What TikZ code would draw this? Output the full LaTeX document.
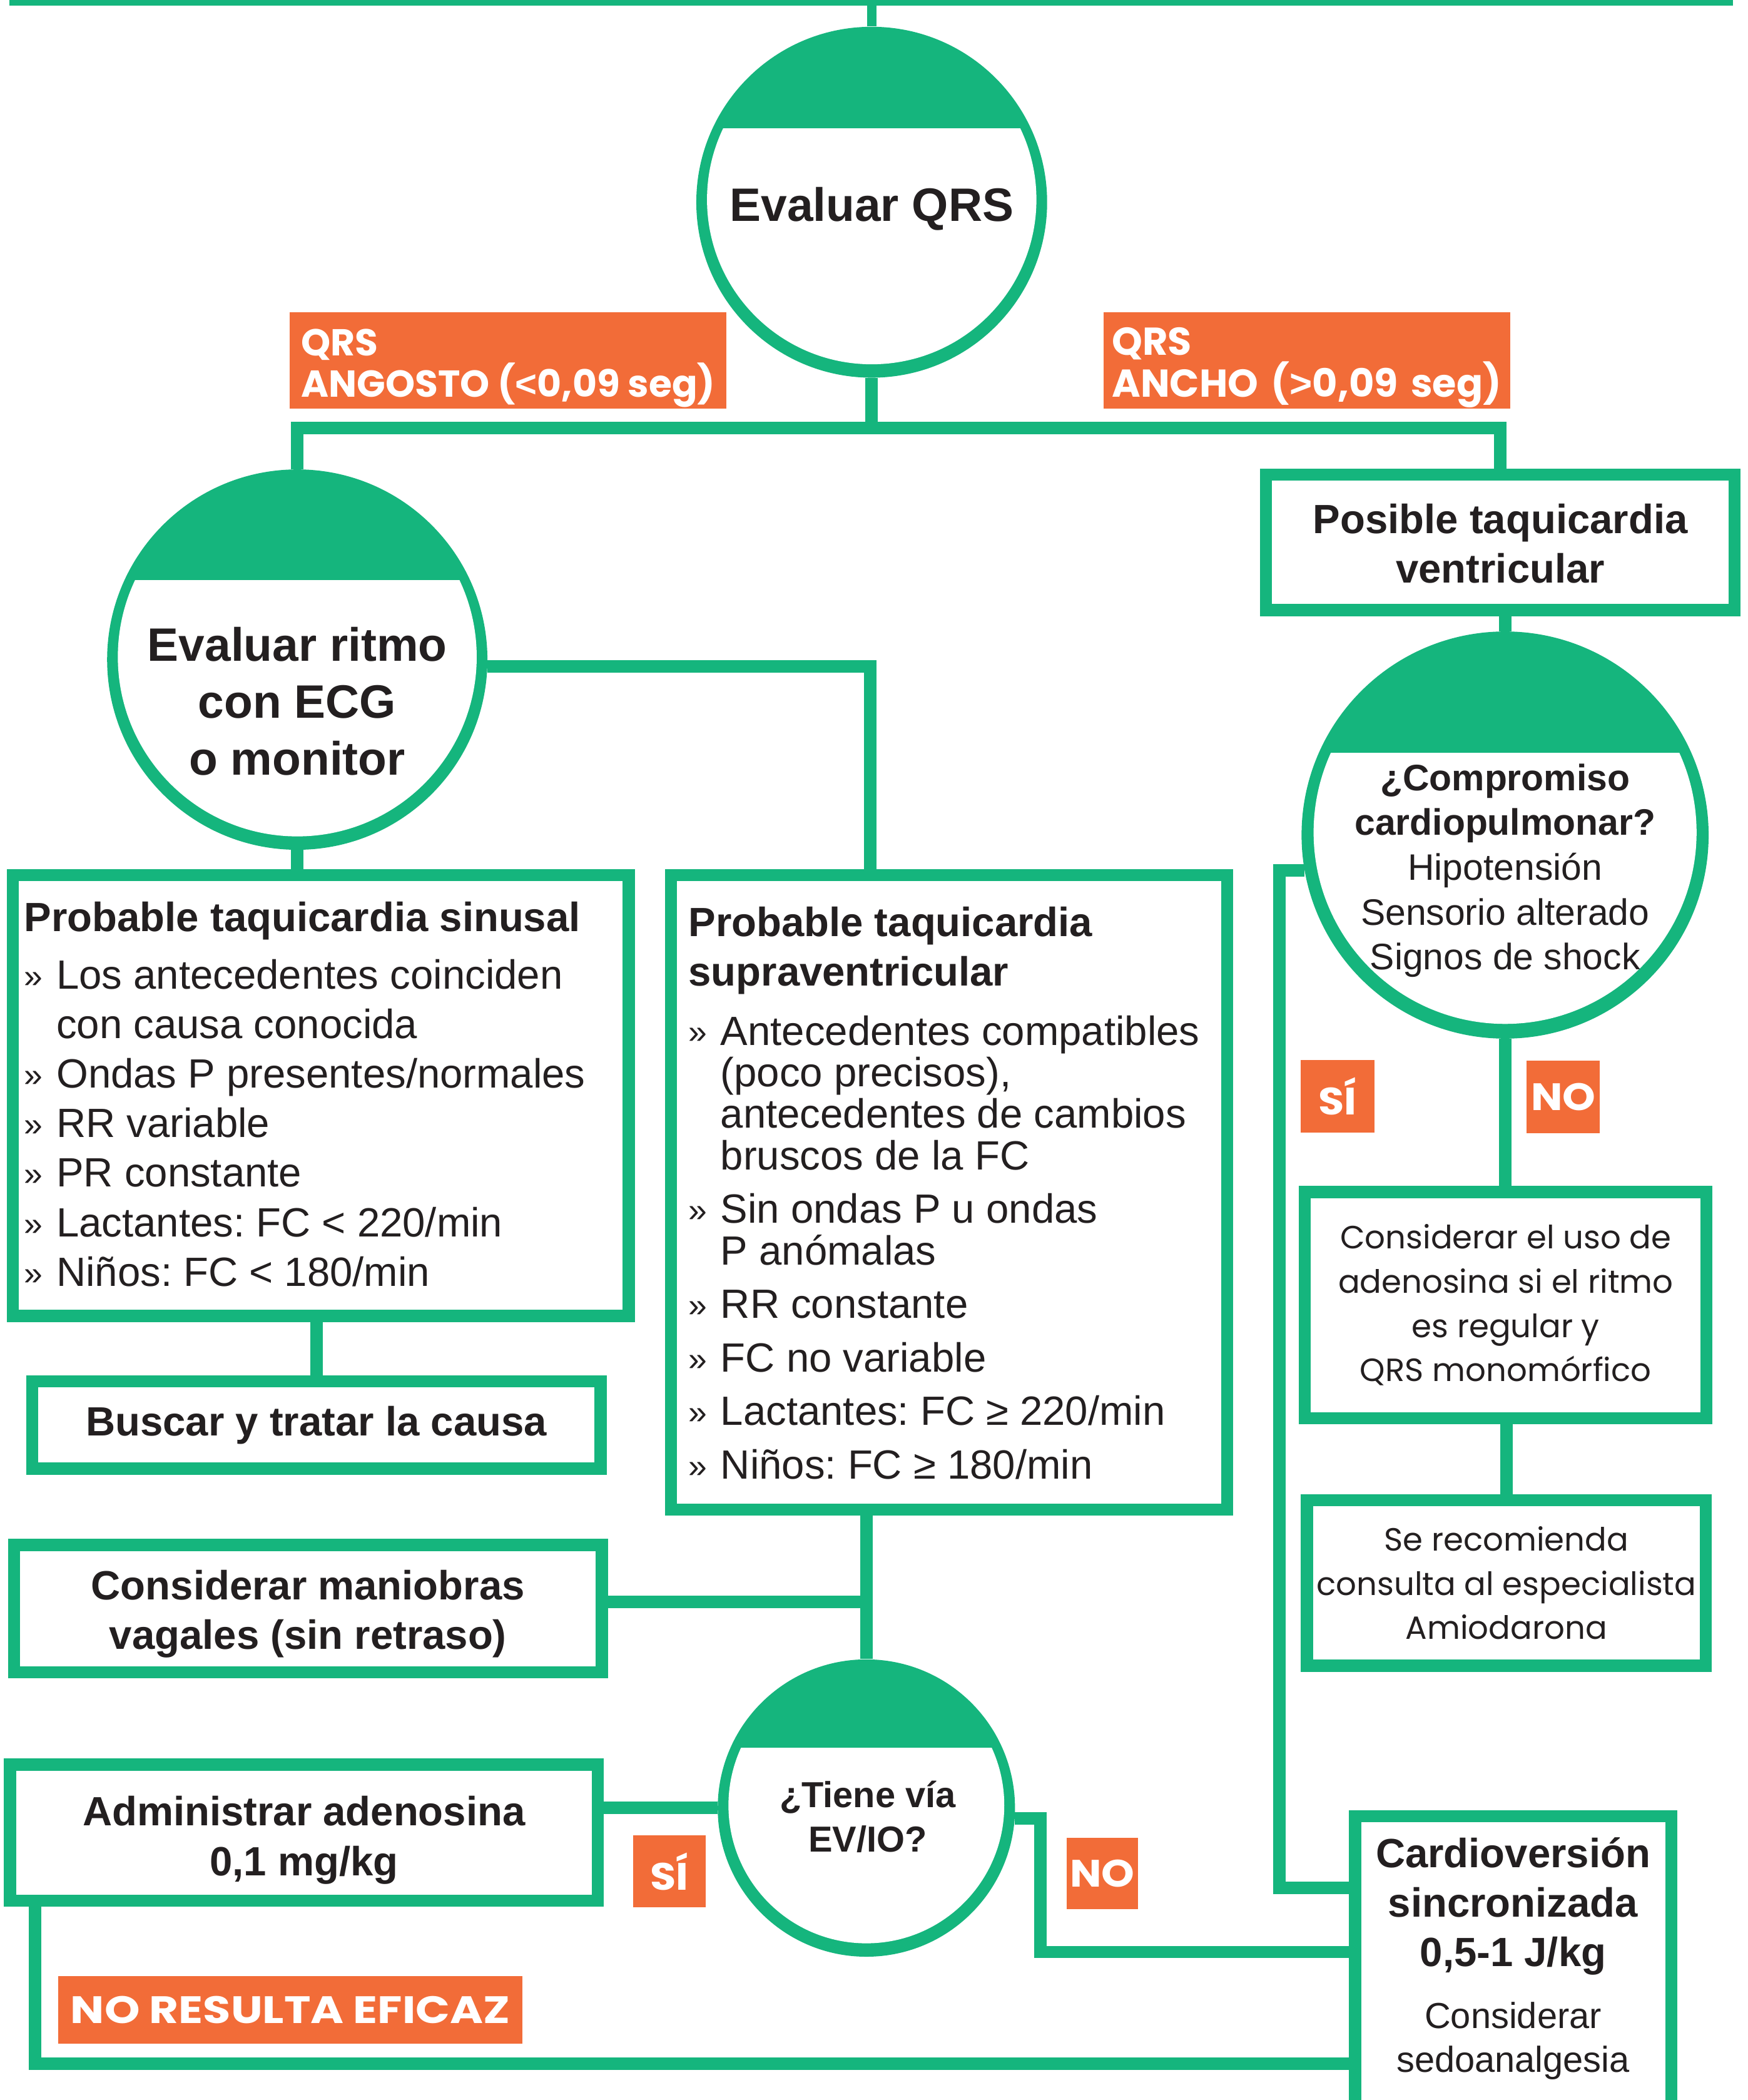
\documentclass[tikz,border=0pt]{standalone}
\usepackage{fontspec}
\setmainfont{Liberation Sans}
\newfontfamily\geo{Poppins}
\definecolor{vgreen}{RGB}{21,181,125}
\definecolor{vorange}{RGB}{242,108,56}
\definecolor{ink}{RGB}{35,31,32}
\newcommand\myfs[2]{\fontsize{#1}{#2}\selectfont}
\newcommand\bul{\makebox[24pt][l]{\myfs{25}{25}\raisebox{1pt}{»}}}
\newcommand\ind{\hspace*{24pt}}
\newcommand\lsb[1]{{\normalfont\bfseries #1}}
\newcommand\capcircle[5]{%
  \fill[vgreen] (#1,#2) circle (#3pt);
  \begin{scope}
    \clip (#1,#2-2) circle (#3pt-#4pt);
    \fill[white] (#1-#3,#5) rectangle (#1+#3,#2+#3);
  \end{scope}}
\frenchspacing
\begin{document}
\begin{tikzpicture}[x=1pt,y=-1pt,
  every node/.style={text=ink},
  conn/.style={draw=vgreen,line width=9.3pt},
  thinconn/.style={draw=vgreen,line width=6.7pt},
  gbox/.style={draw=vgreen,line width=9pt,fill=white,inner sep=0pt,align=center},
  lab/.style={fill=vorange,text=white,inner sep=0pt,font=\geo\bfseries\myfs{28.5}{31}},
  ctext/.style={align=center,inner sep=0pt},
  hollow/.style={circle,inner sep=0pt,draw=none}]
\useasboundingbox (0,0) rectangle (1305,1568);
\clip (0,0) rectangle (1305,1568);

% circle graphics
\capcircle{651}{151}{131}{8}{96}
\capcircle{222}{492.5}{142}{8}{433}
\capcircle{647}{1350}{111}{8}{1305}
\capcircle{1124}{623.5}{152}{9}{562}

% circle nodes
\node[hollow,minimum size=262pt] (c1) at (651,151) {};
\node[hollow,minimum size=284pt] (c2) at (222,492.5) {};
\node[hollow,minimum size=222pt] (c3) at (647,1350) {};
\node[hollow,minimum size=304pt] (c4) at (1124,623.5) {};

\node[ctext,font=\bfseries\myfs{35}{42}] (c1t) at (651,153) {\rule{0pt}{31.5pt}Evaluar QRS};
\node[ctext,font=\bfseries\myfs{35}{42.5}] (c2t) at (222,523.5) {Evaluar ritmo\\con ECG\\o monitor};
\node[ctext,font=\bfseries\myfs{27}{33}] (c3t) at (648,1356.5) {¿Tiene vía\\EV/IO?};
\node[ctext,font=\myfs{27.5}{33.5}] (c4t) at (1124,647.5) {\rule{0pt}{25pt}\textbf{¿Compromiso}\\\textbf{cardiopulmonar?}\\Hipotensión\\Sensorio alterado\\Signos de shock};

% top bar
\node[fill=vgreen,inner sep=0pt,minimum width=1287pt,minimum height=9pt] (topbar) at (650.5,-0.3) {};

% boxes
\node[gbox,minimum width=350pt,minimum height=101pt,font=\bfseries\myfs{30.5}{37}] (pv) at (1120.5,405) {\rule{0pt}{24pt}Posible taquicardia\\ventricular};
\node[gbox,minimum width=460pt,minimum height=329pt] (sin) at (239.5,818) {};
\node[anchor=north west,inner sep=0pt,align=left,font=\myfs{30.5}{37}] (sint) at (18,673)
 {\textbf{Probable taquicardia sinusal}\\[6pt]
  \bul Los antecedentes coinciden\\
  \ind con causa conocida\\
  \bul Ondas P presentes/normales\\
  \bul RR variable\\
  \bul PR constante\\
  \bul Lactantes: FC < 220/min\\
  \bul Niños: FC < 180/min};
\node[gbox,minimum width=415.5pt,minimum height=473.5pt] (svt) at (708.75,890.25) {};
\node[anchor=north west,inner sep=0pt,align=left,font=\myfs{30.5}{31}] (svtt) at (514,677)
 {\textbf{Probable taquicardia}\\[6pt]
  \textbf{supraventricular}\\[13pt]
  \bul Antecedentes compatibles\\
  \ind (poco precisos),\\
  \ind antecedentes de cambios\\
  \ind bruscos de la FC\\[9pt]
  \bul Sin ondas P u ondas\\
  \ind P anómalas\\[9pt]
  \bul RR constante\\[9pt]
  \bul FC no variable\\[9pt]
  \bul Lactantes: FC ≥ 220/min\\[9pt]
  \bul Niños: FC ≥ 180/min};
\node[gbox,minimum width=424.5pt,minimum height=65pt,font=\bfseries\myfs{30.5}{37}] (busc) at (236.25,1064) {Buscar y tratar la causa};
\node[gbox,minimum width=439pt,minimum height=95pt,font=\bfseries\myfs{30.5}{37}] (man) at (230,1201) {\rule{0pt}{30pt}Considerar maniobras\\vagales (sin retraso)};
\node[gbox,minimum width=439pt,minimum height=101.5pt,font=\bfseries\myfs{30.5}{37}] (aden) at (227,1368.25) {\rule{0pt}{33.5pt}Administrar adenosina\\0,1 mg/kg};
\node[gbox,minimum width=300pt,minimum height=169pt,font=\geo\myfs{24}{33}] (uso) at (1124.5,974.5) {Considerar el uso de\\adenosina si el ritmo\\es regular y\\QRS monomórfico};
\node[gbox,minimum width=298pt,minimum height=123.5pt,font=\geo\myfs{24}{33}] (sereco) at (1125,1182) {Se recomienda\\consulta al especialista\\Amiodarona};
\node[gbox,minimum width=236pt,minimum height=344pt] (card) at (1130,1528) {};
\node[ctext,font=\myfs{30.5}{37}] (cardt) at (1130,1462.5) {\textbf{Cardioversión}\\\textbf{sincronizada}\\\textbf{0,5-1 J/kg}\\[9pt]{\myfs{27}{37}Considerar}\\[-4pt]{\myfs{27}{37}sedoanalgesia}};

% orange labels
\node[lab,font=\geo\bfseries\myfs{28}{31},minimum width=326pt,minimum height=72pt,align=left] (lnar) at (379.5,269.3) {\rule{0pt}{31pt}QRS\\ANGOSTO (\lsb{<}0,09 seg)};
\node[lab,font=\geo\bfseries\myfs{29}{31},minimum width=303.8pt,minimum height=72pt,text width=291pt,align=left] (lwid) at (975.9,269.3) {\rule{0pt}{31pt}QRS\\ANCHO (\lsb{>}0,09 seg)};
\node[lab,minimum width=54pt,minimum height=54pt] (si1) at (499.85,1397.3) {\addfontfeature{FakeStretch=1.1}SÍ};
\node[lab,minimum width=53.3pt,minimum height=53.4pt] (no1) at (823.25,1398.9) {\addfontfeature{FakeStretch=1.1}NO};
\node[lab,minimum width=55pt,minimum height=54.5pt] (si2) at (998.75,818.55) {\addfontfeature{FakeStretch=1.1}SÍ};
\node[lab,minimum width=54.8pt,minimum height=54.4pt] (no2) at (1167.4,819) {\addfontfeature{FakeStretch=1.1}NO};
\node[lab,minimum width=347pt,minimum height=50.5pt] (nre) at (216.85,1500.85) {\addfontfeature{FakeStretch=1.18}NO RESULTA EFICAZ};

% connectors
\coordinate (j1) at (650,319.5);
\coordinate (j2) at (647,1196);
\coordinate (k1) at (955.5,1409.5);
\coordinate (k2) at (777,1457.5);
\coordinate (k3) at (26.3,1541);
\draw[thinconn] (c1.north) -- (c1.north |- topbar.south);
\draw[conn] (c1.south) -- (c1.south |- j1);
\draw[conn] (c2.north) |- (j1) -| (pv.north);
\draw[conn] (c4.north) -- (c4.north |- pv.south);
\draw[conn] (c2.-2) -| (svt.north -| j1);
\draw[conn] (c2.south) -- (c2.south |- sin.north);
\draw[conn] (busc.north) -- (busc.north |- sin.south);
\draw[conn] (c3.north) -- (c3.north |- svt.south);
\draw[conn] (j2) -- (j2 -| man.east);
\draw[conn] (c3.west) -- (c3.west -| aden.east);
\draw[conn] (c3.-4) -| (k2) -- (k2 -| card.west);
\draw[conn] (k3 |- aden.south) -- (k3) -- (k3 -| card.west);
\draw[conn] (c4.190) -| (k1) -- (k1 -| card.west);
\draw[conn] (c4.south) -- (c4.south |- uso.north);
\draw[conn] (sereco.north) -- (sereco.north |- uso.south);
\end{tikzpicture}
\end{document}
